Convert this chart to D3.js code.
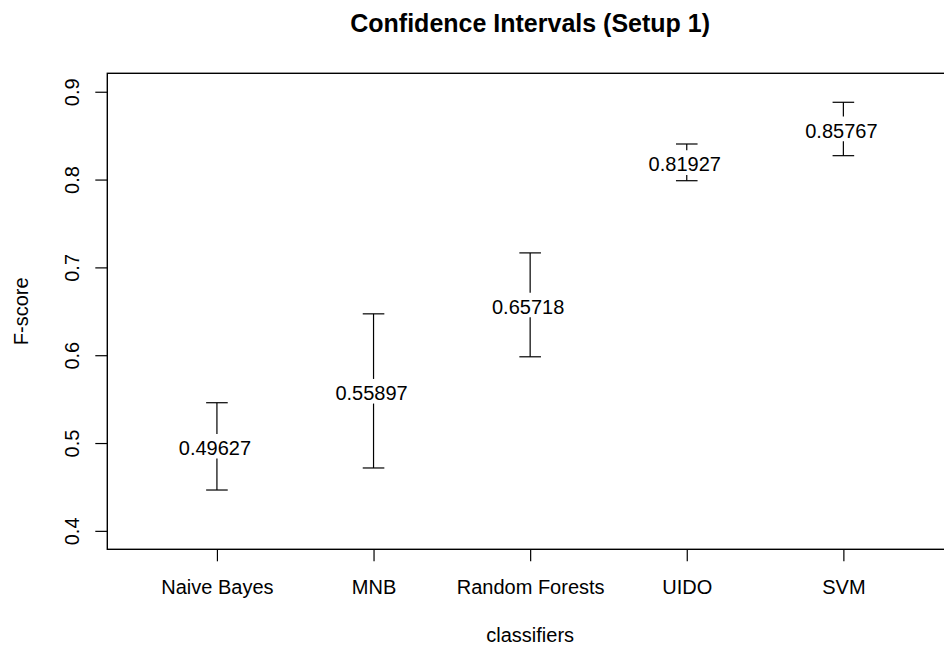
<!DOCTYPE html>
<html>
<head>
<meta charset="utf-8">
<script src="https://cdn.jsdelivr.net/npm/d3@7"></script>
<style>
  html, body { margin: 0; padding: 0; background: #fff; }
  svg { display: block; font-family: "Liberation Sans", Arial, sans-serif; }
</style>
</head>
<body>
<svg id="chart" width="944" height="647"></svg>
<script>
// ---- data ----
const categories = ["Naive Bayes", "MNB", "Random Forests", "UIDO", "SVM"];
const means = [0.49627, 0.55897, 0.65718, 0.81927, 0.85767];
const lower = [0.4465, 0.4716, 0.5982, 0.7987, 0.8272];
const upper = [0.5459, 0.6471, 0.7165, 0.8405, 0.8880];
const yTicks = [0.4, 0.5, 0.6, 0.7, 0.8, 0.9];
const chartTitle = "Confidence Intervals (Setup 1)";
const xTitle = "classifiers";
const yTitle = "F-score";

// ---- layout ----
const plotL = 107.3, plotR = 953, plotT = 73.3, plotB = 549.3;
const svg = d3.select("#chart");

const x = d3.scaleLinear().domain([0.3, categories.length + 0.7]).range([plotL, plotR]);
const y = d3.scaleLinear().domain([0.379, 0.921]).range([plotB, plotT]);

// title
svg.append("text")
  .attr("x", (plotL + plotR) / 2).attr("y", 31.5)
  .attr("text-anchor", "middle")
  .attr("font-size", 25).attr("font-weight", "bold")
  .text(chartTitle);

// y axis
const yAxis = svg.append("g").attr("transform", `translate(${plotL},0)`)
  .call(d3.axisLeft(y).tickValues(yTicks).tickSize(12).tickSizeOuter(0).tickFormat(d3.format(".1f")));
yAxis.select(".domain").remove();
yAxis.selectAll(".tick line").attr("stroke", "#000").attr("stroke-width", 1.2);
yAxis.selectAll(".tick text")
  .attr("x", null).attr("dy", null)
  .attr("transform", "translate(-28,0) rotate(-90)")
  .attr("text-anchor", "middle")
  .attr("font-size", 20).attr("fill", "#000")
  .attr("font-family", "Liberation Sans, Arial, sans-serif");

// x axis
const xIdx = categories.map((c, i) => i + 1);
const xAxis = svg.append("g").attr("transform", `translate(0,${plotB})`)
  .call(d3.axisBottom(x).tickValues(xIdx).tickSize(12).tickSizeOuter(0)
    .tickFormat(d => categories[d - 1]));
xAxis.select(".domain").remove();
xAxis.selectAll(".tick line").attr("stroke", "#000").attr("stroke-width", 1.2);
xAxis.selectAll(".tick text")
  .attr("y", 44.7).attr("dy", null)
  .attr("font-size", 20).attr("fill", "#000")
  .attr("font-family", "Liberation Sans, Arial, sans-serif");

// box
svg.append("rect")
  .attr("x", plotL).attr("y", plotT)
  .attr("width", plotR - plotL).attr("height", plotB - plotT)
  .attr("fill", "none").attr("stroke", "#000").attr("stroke-width", 1.4);

// axis titles
svg.append("text")
  .attr("x", (plotL + plotR) / 2).attr("y", 642)
  .attr("text-anchor", "middle").attr("font-size", 20)
  .text(xTitle);
svg.append("text")
  .attr("transform", `translate(28,${(plotT + plotB) / 2}) rotate(-90)`)
  .attr("text-anchor", "middle").attr("font-size", 20)
  .text(yTitle);

// error bars with gap around label
const gapPx = 12.3, capHalf = 10.8;
const g = svg.append("g");
categories.forEach((c, i) => {
  const cx = x(i + 1);
  const cy = y(means[i]);
  const yu = y(upper[i]), yl = y(lower[i]);
  g.append("line").attr("x1", cx).attr("x2", cx)
    .attr("y1", yu).attr("y2", Math.max(cy - gapPx, yu))
    .attr("stroke", "#000").attr("stroke-width", 1.2);
  g.append("line").attr("x1", cx).attr("x2", cx)
    .attr("y1", yl).attr("y2", Math.min(cy + gapPx, yl))
    .attr("stroke", "#000").attr("stroke-width", 1.2);
  [yu, yl].forEach(v => {
    g.append("line").attr("x1", cx - capHalf).attr("x2", cx + capHalf)
      .attr("y1", v).attr("y2", v)
      .attr("stroke", "#000").attr("stroke-width", 1.2);
  });
  g.append("text")
    .attr("x", cx - 2).attr("y", cy + 8.8)
    .attr("text-anchor", "middle").attr("font-size", 20)
    .text(d3.format(".5f")(means[i]));
});
</script>
</body>
</html>
